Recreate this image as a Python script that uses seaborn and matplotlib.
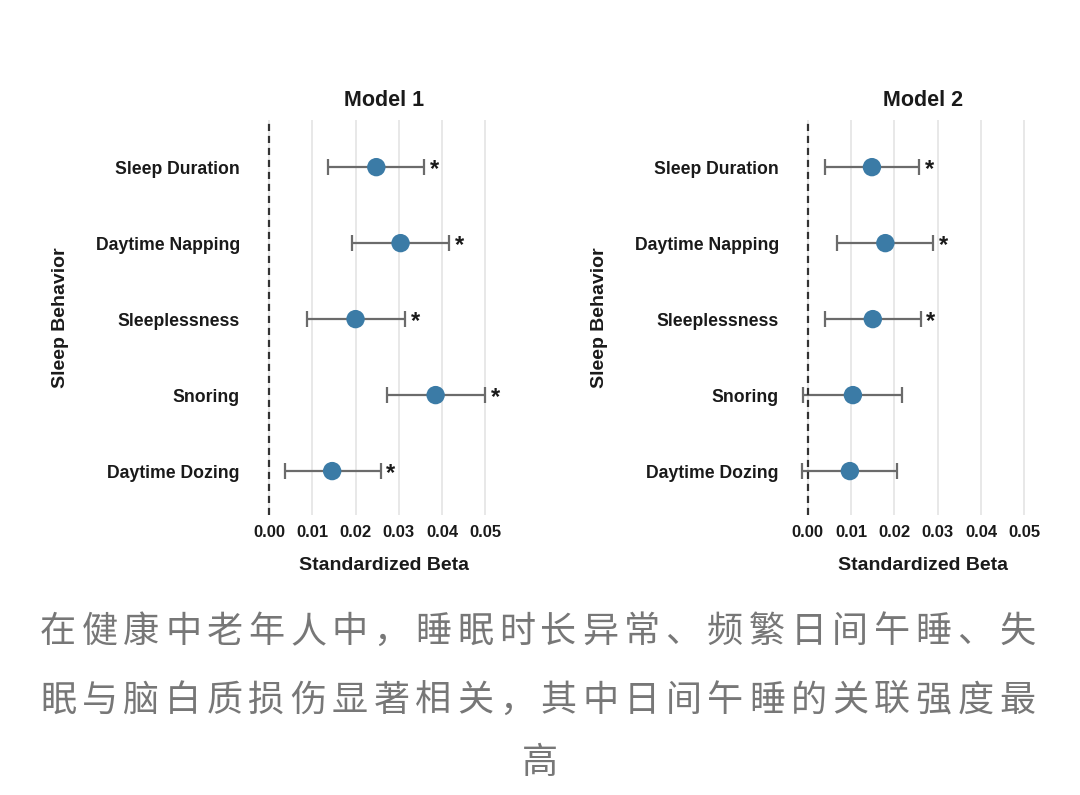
import numpy as np
import pandas as pd
import matplotlib
matplotlib.use('Agg')
import matplotlib.pyplot as plt
import seaborn as sns

# sleep behaviours, top to bottom
behaviors = ['Sleep Duration', 'Daytime Napping', 'Sleeplessness', 'Snoring', 'Daytime Dozing']

# Model 1 standardized betas with 95% CI
m1_beta = [0.0248, 0.0304, 0.0200, 0.0385, 0.0146]
m1_lo = [0.0136, 0.0192, 0.0088, 0.0273, 0.0036]
m1_hi = [0.0359, 0.0416, 0.0314, 0.0499, 0.0258]
m1_sig = [True, True, True, True, True]

# Model 2
m2_beta = [0.0148, 0.0179, 0.0150, 0.0104, 0.0097]
m2_lo = [0.0039, 0.0068, 0.0040, -0.0011, -0.0014]
m2_hi = [0.0257, 0.0290, 0.0261, 0.0218, 0.0207]
m2_sig = [True, True, True, False, False]

x_ticks = [0.00, 0.01, 0.02, 0.03, 0.04, 0.05]
tick_labels = ['0.00', '0.01', '0.02', '0.03', '0.04', '0.05']

caption_lines = ['在健康中老年人中，睡眠时长异常、频繁日间午睡、失',
                 '眠与脑白质损伤显著相关，其中日间午睡的关联强度最',
                 '高']

point_color = '#3b7ba6'
bar_color = '#6b6b6b'
txt_color = '#1a1a1a'


def forest_panel(ax, df, title):
    y = np.arange(len(df))
    ax.errorbar(df['beta'], y,
                xerr=[df['beta'] - df['lo'], df['hi'] - df['beta']],
                fmt='none', ecolor=bar_color, elinewidth=1.6,
                capsize=5.5, capthick=1.6, zorder=2)
    sns.scatterplot(data=df, x='beta', y=y, ax=ax, s=175, color=point_color,
                    edgecolor='none', zorder=3, legend=False)
    ax.axvline(0, color='#333333', linestyle=(0, (3.2, 2.2)), linewidth=1.6, zorder=4)

    for i, row in df.reset_index(drop=True).iterrows():
        if row['sig']:
            ax.annotate('*', (row['hi'], i), xytext=(4, -2), textcoords='offset points',
                        ha='left', va='center', fontsize=17, fontweight='bold',
                        color=txt_color)

    ax.set_xlim(-0.003, 0.056)
    ax.set_ylim(len(df) - 0.42, -0.62)
    ax.set_xticks(x_ticks)
    ax.set_xticklabels(tick_labels)
    ax.set_yticks(y)
    ax.set_yticklabels(df['behavior'])
    ax.grid(False, axis='y')
    ax.grid(True, axis='x', color='#e6e6e6', linewidth=1.3)
    ax.set_axisbelow(True)
    for s in ax.spines.values():
        s.set_visible(False)
    ax.tick_params(axis='both', length=0, colors=txt_color)
    ax.tick_params(axis='y', pad=11.5, labelsize=12.7)
    ax.tick_params(axis='x', pad=7, labelsize=12)
    for lab in ax.get_xticklabels() + ax.get_yticklabels():
        lab.set_fontweight('bold')
    ax.set_xlabel('Standardized Beta', fontsize=14, fontweight='bold',
                  color=txt_color, labelpad=12)
    ax.set_ylabel('Sleep Behavior', fontsize=14, fontweight='bold',
                  color=txt_color, labelpad=19)
    ax.set_title(title, fontsize=15.5, fontweight='bold', color=txt_color, pad=10)


def main():
    sns.set_theme(style='whitegrid')
    plt.rcParams['font.family'] = ['Liberation Sans', 'DejaVu Sans']

    df1 = pd.DataFrame({'behavior': behaviors, 'beta': m1_beta, 'lo': m1_lo,
                        'hi': m1_hi, 'sig': m1_sig})
    df2 = pd.DataFrame({'behavior': behaviors, 'beta': m2_beta, 'lo': m2_lo,
                        'hi': m2_hi, 'sig': m2_sig})

    fig = plt.figure(figsize=(10.8, 7.95), dpi=100)
    ax1 = fig.add_axes([0.237, 0.352, 0.2365, 0.497])
    ax2 = fig.add_axes([0.736, 0.352, 0.2365, 0.497])

    forest_panel(ax1, df1, 'Model 1')
    forest_panel(ax2, df2, 'Model 2')

    # caption, justified lines drawn char by char
    W, H = 1080, 795
    cjk = ['Noto Sans CJK SC', 'DejaVu Sans']
    line_y = [632, 701, 763]
    pitch = 41.7
    for k, line in enumerate(caption_lines):
        if len(line) > 1:
            x0 = 58
            for i, ch in enumerate(line):
                fig.text((x0 + i * pitch) / W, 1 - line_y[k] / H, ch, ha='center',
                         va='center', fontsize=26, color='#777777', family=cjk)
        else:
            fig.text(540 / W, 1 - line_y[k] / H, line, ha='center', va='center',
                     fontsize=26, color='#777777', family=cjk)

    fig.savefig('out.png', dpi=100)


if __name__ == '__main__':
    main()
